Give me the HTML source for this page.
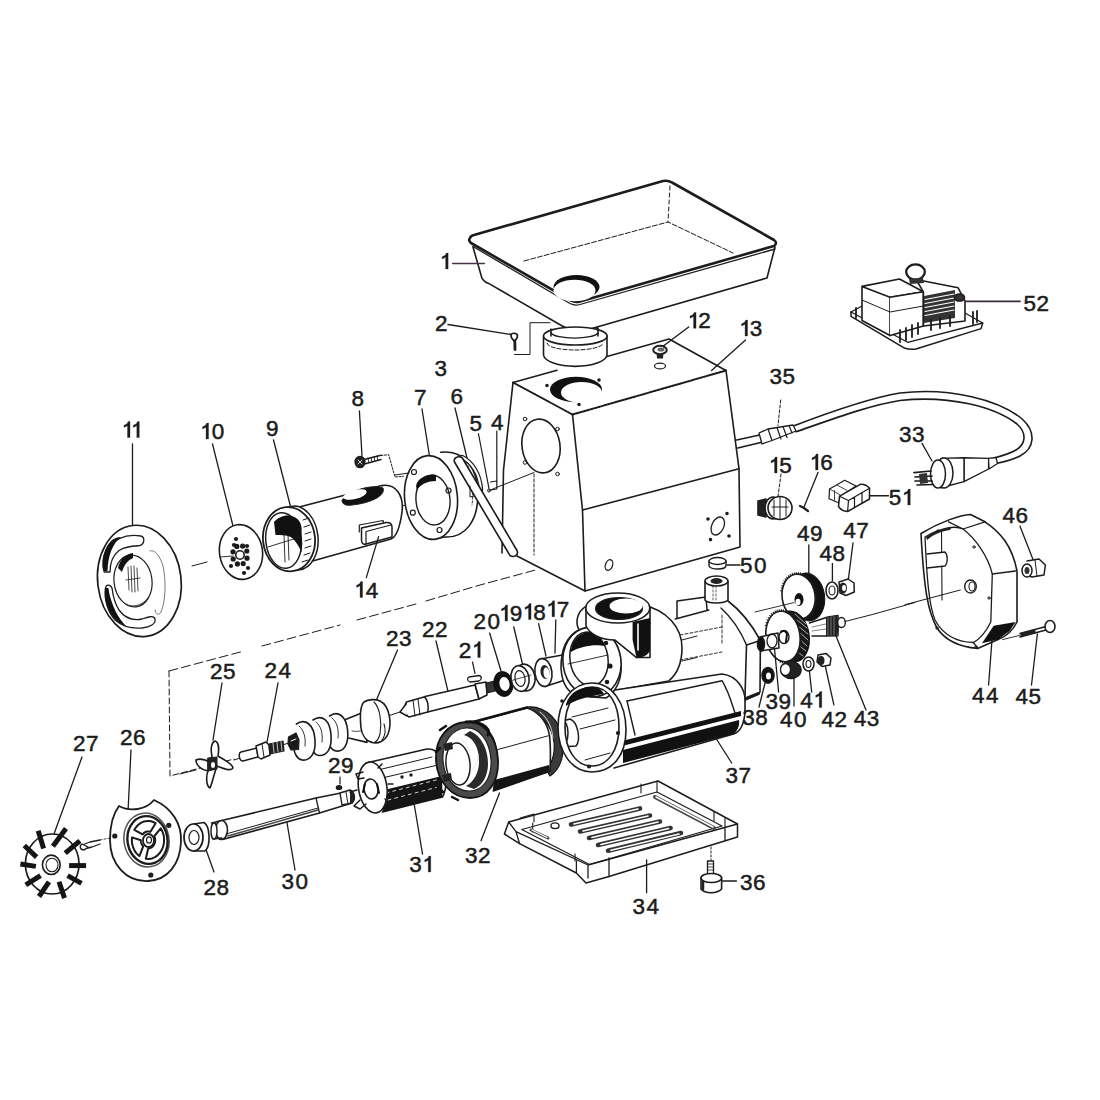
<!DOCTYPE html>
<html><head><meta charset="utf-8"><title>Meat grinder exploded view</title>
<style>
html,body{margin:0;padding:0;background:#fff;width:1100px;height:1100px;overflow:hidden;}
svg{display:block;}
.lb text{font-family:"Liberation Sans",sans-serif;font-size:22.5px;fill:#1c1c1c;stroke:#1c1c1c;stroke-width:0.5px;}
.lb path{fill:#1c1c1c;stroke:#1c1c1c;stroke-width:0.3px;}
</style></head><body>
<svg width="1100" height="1100" viewBox="0 0 1100 1100">
<rect x="0" y="0" width="1100" height="1100" fill="#fff"/>
<g fill="none" stroke="#1c1c1c" stroke-width="1.6" stroke-linejoin="round" stroke-linecap="round">
<!-- 01_tray.svg -->
<g id="tray">
<!-- tray body walls -->
<path d="M473,247 L481.8,277.8 Q484,282 489,283.6 L561.8,325.8 Q567,329 573.5,330 Q582,330.5 591,328.7 L767,278 L775,247" fill="#fff"/>
<!-- rim fill + outline -->
<path d="M470,238 Q471,235.5 474,235 L663,181 Q668,180 672,182.5 L774,240 Q778,243 774,246 L580,301.5 Q575,303 571,300.5 L471,243 Q468,240.5 470,238 Z" fill="#fff" stroke-width="2.6"/>
<path d="M473,246.5 L570,303.5 Q575,306 580,304.5 L775,249" stroke-width="1.3"/>
<!-- inner bottom lines -->
<path d="M524,261 L668,222 L733,253" stroke-width="1" stroke-dasharray="5 2"/>
<path d="M670,186 L668,222" stroke-width="1" stroke-dasharray="4 3"/>
<!-- hole -->
<ellipse cx="576.5" cy="287" rx="23" ry="12" fill="#111" stroke="none"/>
<ellipse cx="574.5" cy="290.5" rx="21" ry="10.8" fill="#fff" stroke="none"/>
</g>
<g id="collar">
<path d="M551,329 L551,343 M597,327 L597,343" stroke-width="1.4"/>
<path d="M543.5,336 L543.5,355 A31.8,12 0 0 0 607,355 L607,336" fill="#fff"/>
<ellipse cx="575.3" cy="336" rx="31.8" ry="9" fill="#fff"/>
<path d="M551,333 A24,6.5 0 0 0 598,333" stroke-width="1.3"/>
<path d="M551,330 L551,336 M598,328 L598,336" />
<path d="M547,343 A28,7 0 0 0 603,343" stroke-width="1" stroke-dasharray="4 2"/>
</g>
<g id="p2">
<path d="M448,324.5 L511,334.5" stroke-width="1.4"/>
<path d="M511,335.5 C511,332.5 517,332.5 517.5,335.5 C517.5,338 515.5,340.5 514.5,341 C513.5,340.5 511,338 511,335.5 Z" fill="#fff" stroke-width="1.7"/>
<path d="M514.8,341 L515,349.5" stroke-width="2.8"/>
<path d="M514.5,354.5 L530,354.5 L530,322.7 L550,322.7" stroke-width="1"/>
</g>
<g id="p12">
<path d="M688.7,327 L662,347" stroke-width="1.4"/>
<path d="M656.5,352 L663.5,352 L663,358.5 L657,358.5 Z" fill="#222" stroke="none"/>
<ellipse cx="660" cy="350" rx="6.8" ry="4.2" fill="#fff" stroke="#222" stroke-width="2"/>
<ellipse cx="661" cy="349.5" rx="3.5" ry="2" fill="#666" stroke="none"/>
<ellipse cx="660" cy="366" rx="5.5" ry="2.9" stroke-width="1.2"/>
</g>
<path d="M452.7,263.6 L484.5,263.6" stroke="#4a3048" stroke-width="1.5"/>

<!-- 02_body.svg -->
<g id="body13">
<path d="M513,382.5 L557,370.3 M607,356.5 L669,339 L726,370.5" />
<path d="M513,382.5 L572.5,414.5" stroke-width="1.9" stroke-dasharray="2.5 1.2"/>
<path d="M572.5,414.5 L726,370.5" stroke-width="2" stroke-dasharray="2.5 1.2"/>
<path d="M513,382.5 L503.5,470 L502,553" />
<path d="M572.5,414.5 L582.5,510 L585,591 L740,547 L739,468.7 L726,370.5" />
<path d="M517,556 L585,591" />
<path d="M582.5,510 L739,468.7" />
<path d="M745.5,340 L711.6,370.5" stroke-width="1.3"/>
<!-- top hole -->
<ellipse cx="576" cy="389.5" rx="26" ry="12.8" fill="#111" stroke="none"/>
<ellipse cx="581.5" cy="392.5" rx="20.5" ry="10.6" fill="#fff" stroke="none"/>
<circle cx="547" cy="385.5" r="1" fill="#222"/><circle cx="599" cy="380" r="1" fill="#222"/><circle cx="579" cy="404.5" r="1" fill="#222"/>
<!-- side opening -->
<ellipse cx="541" cy="446" rx="19" ry="27" transform="rotate(-8 541 446)"/>
<circle cx="525" cy="419" r="1.8" stroke-width="1"/><circle cx="557.5" cy="429" r="1.8" stroke-width="1"/>
<circle cx="525" cy="462.5" r="1.8" stroke-width="1"/><circle cx="557.5" cy="474" r="1.8" stroke-width="1"/>
<path d="M534,474 L534,555" stroke-width="1" stroke-dasharray="3 2"/>
<ellipse cx="609" cy="565" rx="3.5" ry="5.5" transform="rotate(20 609 565)" stroke-width="1.3"/>
<ellipse cx="717.8" cy="526" rx="6" ry="9.5" transform="rotate(25 717.8 526)" stroke-width="1.3"/>
<circle cx="708" cy="519" r="1" fill="#222"/><circle cx="727" cy="513.5" r="1" fill="#222"/>
<circle cx="710.5" cy="539.6" r="1" fill="#222"/><circle cx="729" cy="536" r="1" fill="#222"/>
</g>

<!-- 03_cable.svg -->
<g id="cable">
<path d="M736.7,440 L759.6,435 M737.8,448 L760.7,442.5" />
<!-- connector 35 -->
<path d="M759,433 L768,429 L793,425 L796,431 L772,440.5 L762,444 Z" fill="#fff" stroke-width="1.3"/>
<path d="M768,429 L772,440.5 M777,427.5 L781,439 M783,426.5 L787,437.5 M789,425.5 L792,433" stroke-width="1.2"/>
<path d="M780.7,400 L778,425.5" stroke-width="1" stroke-dasharray="3 2"/>
<!-- long cable -->
<path d="M794.7,425.5 C830,412 870,398 900,393 C950,387 1000,400 1022.7,419.5 C1036,432 1035,448 1020,456 C1012,460 1004,462 996,463.5" stroke-width="1.6"/>
<path d="M796,431.8 C830,420 870,405 900,400.5 C950,395 995,407 1017,424 C1027,433 1026,444 1016,450 C1009,454 1002,456 994,458" stroke-width="1.6"/>
</g>
<g id="p33">
<path d="M922,443.4 L932,461" stroke-width="1.3"/>
<path d="M988,458.4 L996,457.5 L997.5,463.5 L989,469 Z" fill="#fff" stroke-width="1.3"/>
<path d="M964,457.7 L988.6,458.4 L988.6,469 L964,481.6 Z" fill="#fff" stroke-width="1.4"/>
<path d="M941,458.4 L964,457.7 L964,481.6 L941,487.7 Z" fill="#fff" stroke-width="1.4"/>
<ellipse cx="944" cy="473" rx="9" ry="15" fill="#fff" stroke-width="1.5"/>
<ellipse cx="938" cy="474" rx="7.5" ry="14" fill="#fff" stroke-width="1.5"/>
<path d="M914,472.7 L931,471 M915,477 L932,476 M915,481 L932,481 M917,485 L933,484.5" stroke-width="1.7"/><path d="M919,474 L927,473 L928,483 L920,484 Z" fill="#333" stroke="none"/>
</g>
<g id="p52">
<path d="M851,312 L851,316.4 L903.6,347.7 Q910,350 916,349 L981,328.6 L982.7,323" fill="#fff" stroke-width="1.5"/>
<path d="M851,312 L907.7,342.3 L982.7,323 L965,313" stroke-width="1.3"/>
<path d="M851,312 L862,306" stroke-width="1.3"/>
<path d="M862,286.4 L862,320.5 L890,335.5 L890,297.3 Z M862,286.4 L899.5,279 L923.4,291.8 L890,297.3" fill="#fff"/>
<path d="M890,297.3 L923.4,291.8 L923.4,326 L890,335.5" fill="#fff"/>
<path d="M862,300 L890,312 L923.4,306" stroke-width="1"/>
<path d="M903,260 M916,279.5 L958,287.7 L965,301 L965,321 L923.4,326 L923.4,291.8 Z" fill="#fff"/>
<path d="M924,296 L955,290 L955,318 L924,323 Z" fill="#333" stroke="none"/>
<path d="M925,299.5 L954,294 M925,303.5 L954,298 M925,307.5 L954,302 M925,311.5 L954,306 M925,315.5 L954,310" stroke="#fff" stroke-width="1.1"/>
<ellipse cx="915.5" cy="272" rx="9.3" ry="7.6" stroke-width="2.3"/>
<path d="M909,279 L923,278 L924,283 L910,284 Z" fill="#333" stroke="none"/>
<ellipse cx="959.5" cy="297.5" rx="5" ry="3.5" fill="#333"/>
<path d="M900,330 L900,342 M906,328 L906,340 M912,325 L912,337 M918,323 L918,334 M931,320 L931,330 M940,318 L940,328 M950,316 L950,326 M973,312 L973,324 M977,311 L977,322 M856,308 L856,318" stroke-width="1.8"/>
<path d="M965,301.4 L1020,301.4" stroke="#3a2a40" stroke-width="1.6"/>
</g>
<g id="p15">
<path d="M781,474 L778,496.7" stroke-width="1" stroke-dasharray="3 2"/>
<path d="M758,501 L766,499 L766,517 L758,515 Z" fill="#222"/>
<ellipse cx="773" cy="508" rx="8" ry="11" fill="#fff"/>
<ellipse cx="780" cy="508" rx="12" ry="11.5" fill="#fff"/>
<path d="M774,500 L774,516 M780,497 L780,519 M786,500 L786,516 M772,507 L788,507" stroke-width="1"/>
</g>
<g id="p16">
<path d="M818,472.5 L804,507" stroke-width="1.3"/>
<path d="M800,506 L804,508 L808,511" stroke-width="2.2"/>
</g>
<g id="p51">
<path d="M829.5,489 L844.7,480.2 L856,486 L840,497 L839,503 L829,498.7 Z" fill="#fff" stroke-width="1.2"/>
<path d="M829.5,489 L839.6,494.5 M837,485 L847,490.5 M834.5,490.5 L834.5,500.5" stroke-width="1" stroke="#444"/>
<path d="M839.6,496.2 L860.7,484.2 Q866,484 869.5,488.2 L869.5,499 L847.6,511.5 Q841,511 838.5,506.4 Z" fill="#fff" stroke-width="1.5"/>
<path d="M839.6,496.2 L848.5,500.5 L869.5,488.2 M848.5,500.5 L847.6,511.5 M854.5,497 L854.5,507.5 M862,492.5 L862,503" stroke-width="1.2"/>
<path d="M870,495.8 L888.4,495.8" stroke-width="1.4"/>
</g>

<!-- 04_left.svg -->
<g id="axis-lines" stroke-width="1">
<path d="M169,671 L244,651 M262,646 L340,625 M357,620 L416,604 M426,601 L480,585 L535.6,570" stroke-dasharray="9 4"/>
<path d="M169,671 L170,776 L234,759" stroke-dasharray="6 3"/>
<path d="M192,566 L207,562 M222,558 L236,555" />
<path d="M395,507.6 L448.5,495" />
<path d="M489,490.5 L534,472.5" />
</g>
<g id="p11">
<path d="M132.5,444 L132.5,526" stroke-width="1.3"/>
<ellipse cx="139.4" cy="580.9" rx="41.7" ry="55.8" transform="rotate(-7 139.4 580.9)" fill="#fff" stroke-width="1.7"/>
<path d="M140.8,536 C128,534 116,538 108,548 C102,556 102,566 104.2,572 L110,572 C110,564 112,556 119,550.5 C126,546 134,546 139.6,545.7 C145,544 145,537 140.8,536 Z" fill="#fff" stroke-width="1.3"/>
<path d="M104,571 C101,560 104,547 112,540 C115,538 118,537 121,537 C113,543 108,555 107.5,571 Z" fill="#111" stroke="none"/>
<path d="M105.4,588.3 C104,600 108,612 115,620 C122,626 132,629 142,628 C150,627 156,624 155,619 C154,615 148,617 142,619 C132,621 124,617 119,610 C115,604 113,596 112,588 C110,584 106,584 105.4,588.3 Z" fill="#fff" stroke-width="1.3"/>
<path d="M105,588 C104,602 109,615 118,622 C121,624 124,625 126,626 C118,618 112,606 109,592 L108.5,588 Z" fill="#111" stroke="none"/>
<path d="M150,551 C155,549 160,556 163,566 C166,580 166,600 161,612 C159,616 155,614 155,610" stroke-width="1" stroke="#777"/>
<ellipse cx="133" cy="581" rx="19" ry="26" transform="rotate(-7 133 581)" stroke-width="1.2"/>
<path d="M118,568 C120,559 126,554 133,553 L133,558 C128,560 124,565 122,572 Z" fill="#111" stroke="none"/>
<path d="M128,567 L129,590 M131,566 L132,592 M134,566 L135,592 M137,568 L138,591 M126,580 L140,578" stroke-width="0.8"/>
<path d="M126,604 C132,608 142,606 148,598" stroke-width="0.8"/>
</g>
<g id="p10">
<path d="M212.5,444 L234,530" stroke-width="1.3"/>
<ellipse cx="241" cy="552" rx="21.5" ry="27.5" transform="rotate(-8 241 552)" fill="#fff"/>
<g fill="#1a1a1a" stroke="none"><circle cx="247.0" cy="558.2" r="2.6"/><circle cx="243.2" cy="563.6" r="2.6"/><circle cx="237.4" cy="563.9" r="2.6"/><circle cx="233.2" cy="559.0" r="2.6"/><circle cx="233.0" cy="551.8" r="2.6"/><circle cx="236.8" cy="546.4" r="2.6"/><circle cx="242.6" cy="546.1" r="2.6"/><circle cx="246.8" cy="551.0" r="2.6"/><circle cx="236" cy="539" r="2.1"/><circle cx="247" cy="546" r="2.1"/><circle cx="231" cy="566" r="2.1"/><circle cx="248" cy="568" r="2.1"/><circle cx="244" cy="573" r="2.1"/><circle cx="234" cy="545" r="2.1"/></g>
<circle cx="240" cy="555" r="4.2" fill="#fff" stroke-width="1.6"/>
<path d="M220,557 L233,556" stroke-width="0.9"/>
</g>
<g id="p9">
<path d="M273.5,440 L290.5,506.5" stroke-width="1.3"/>
<path d="M298.3,507.2 L381.7,485.6 C396,483 404,496 402,512 C400,527 396,537 391,539 L309,562" fill="#fff"/>
<ellipse cx="296" cy="538" rx="22" ry="32" transform="rotate(-6 296 538)" fill="#fff" stroke-width="1.5"/>
<ellipse cx="289" cy="539.2" rx="26" ry="32.2" transform="rotate(-6 289 539.2)" fill="#fff" stroke-width="1.8"/>
<ellipse cx="283.6" cy="540.5" rx="17.8" ry="27.8" transform="rotate(-6 283.6 540.5)" stroke-width="1.5"/>
<path d="M274,521.8 C279,516 287,514 293,516.4 C298,518 301,522 301.6,528 L301.6,552.4 C299,546 295,540 290.7,537 C286,535 280,535 275.5,535 Z" fill="#111" stroke="none"/>
<path d="M303,520 L309,518 M304,527 L310,525 M305,534 L311,532 M305,541 L311,539 M305,548 L311,546 M304,555 L310,553 M302,562 L308,560" stroke-width="1"/>
<path d="M268,547 L300,537 M284,534 L285,562 M288,534 L289,560" stroke-width="0.9"/>
<!-- slot -->
<path d="M342.3,500 C350,490 372,484 383,488 C386,495 372,503 352,505 C346,506 341,504 342.3,500 Z" fill="#111" stroke-width="1"/>
<ellipse cx="355" cy="494.5" rx="12" ry="4.5" transform="rotate(-15 355 494.5)" fill="#fff" stroke="none"/>
</g>
<g id="p14">
<path d="M359.3,532 L359.3,525 L383,520.5 L384,524" stroke-width="1.2"/>
<path d="M361.5,528 L386,522.5 Q392,522 392,527 L392,537 L366,544 Q361.5,545 361.5,540 Z" fill="#fff" stroke-width="1.5"/>
<path d="M366,531.5 L366,544 M366,531.5 L391,525" stroke-width="1.2"/>
<path d="M378.6,536.6 L366.3,577.6" stroke-width="1.3"/>
</g>
<g id="p8">
<path d="M359.4,411 L362,456" stroke-width="1.3"/>
<ellipse cx="360" cy="462" rx="4.8" ry="5.5" fill="#222"/>
<path d="M358,460 L362,464 M362,460 L358,464" stroke="#fff" stroke-width="0.8"/>
<path d="M364,459.5 L381,455.2 M364.5,464 L381,459.5" stroke-width="1.4"/>
<path d="M368,458 L368.8,462.5 M371,457.3 L371.8,461.8 M374,456.5 L374.8,461 M377,455.8 L377.8,460.3" stroke-width="0.9"/>
<path d="M381,455.5 L388.7,454.7 L394.9,477 L403.4,476.3" stroke-width="1" stroke-dasharray="2 1.5"/>
</g>
<g id="p7">
<path d="M422,409 L429.4,455.5" stroke-width="1.3"/>
<path d="M440.8,452.3 C465,449 478,470 478,494 C478,520 466,538 445,537 L431,539.5" fill="#fff"/>
<path d="M466,462 C472,472 474,490 472,505" stroke-width="0.9" stroke-dasharray="2 2"/>
<ellipse cx="431" cy="497.5" rx="26.4" ry="42" transform="rotate(-5 431 497.5)" fill="#fff"/>
<ellipse cx="433" cy="500" rx="17" ry="25" transform="rotate(-5 433 500)" fill="#fff" stroke-width="1.4"/>
<path d="M416,486 C418,478 426,474 436,475 L436,481 C428,481 421,484 417,490 Z" fill="#111" stroke="none"/>
<circle cx="414" cy="472" r="2.5" stroke-width="1.2"/><circle cx="448.5" cy="490.5" r="2.5" stroke-width="1.2"/>
<circle cx="412.8" cy="512.7" r="2.5" stroke-width="1.2"/><circle cx="439.5" cy="530" r="2.5" stroke-width="1.2"/>
<path d="M395,475 L409,473" stroke-width="1"/>
</g>
<g id="p6">
<path d="M455,408 L467,458" stroke-width="1.3"/>
<path d="M462,457 C472,462 480,474 481,490" stroke-width="4.5" stroke="#1c1c1c"/>
<path d="M462,457 C472,462 480,474 481,490" stroke-width="2" stroke="#fff"/>
<path d="M454.5,462 C453,458 458,455.5 462,457.5 L517,550.5 C519,555 514,558 510,555.6 Z" fill="#fff" stroke-width="1.6"/>
<path d="M470,486 L470,497 L474,496" stroke-width="1"/>
</g>
<g id="p45">
<path d="M478.4,433.5 L489,488.5" stroke-width="1.2"/>
<path d="M496.8,431 L496.8,481" stroke-width="1.2"/>
<path d="M490.5,482 L496.8,481 L496.8,489 L491,490" stroke-width="1.2"/>
<circle cx="489" cy="490.5" r="1.5" stroke-width="1"/>
</g>

<!-- 05_bottomleft.svg -->
<g id="p25">
<path d="M222,683 L213,740" stroke-width="1.3"/>
<path d="M180,774 L196,770 M234,760 L292,742" stroke-width="1"/>
<path d="M212,756 C210,748 212,742 215,741 C219,742 219,750 218,756 C224,760 232,763 233,768 C231,772 222,768 217,766 C214,774 212,784 210,788 C206,786 206,776 208,771 C202,770 196,766 196,760 C200,758 206,760 210,762 Z" fill="#fff" stroke-width="1.6"/>
<path d="M208,758 L217,757 L217,769 L208,771 Z" fill="#222" stroke-width="1"/>
<ellipse cx="213" cy="765" rx="2" ry="3" fill="#fff" stroke="none"/>
</g>
<g id="p24">
<path d="M278,683 L267,742" stroke-width="1.3"/>
<path d="M241,752 L257,748 L258,757 L243,761 C239,761 238,753 241,752 Z" fill="#fff" stroke-width="1.5"/>
<path d="M256,746 L266,742 L269,745 L270,755 L261,759 L258,757 Z" fill="#fff" stroke-width="1.5"/>
<path d="M262,744 L264,757" stroke-width="1"/>
<path d="M269,744 L283,741 L284,751 L270,754 Z" fill="#222" stroke-width="1.2"/>
<path d="M273,743 L274,753 M277,742 L278,752 M281,741.5 L282,751" stroke="#fff" stroke-width="0.7"/>
</g>
<g id="p23">
<path d="M397.5,650 L376,701" stroke-width="1.3"/>
<path d="M388,716 L400,712" stroke-width="1"/>
<path d="M345.5,719.5 L364,712 L367,742.4 L348.7,738" fill="#fff" stroke-width="1.6"/>
<path d="M352,731 C356,732 362,731 365,730" stroke-width="0.8"/>
<path d="M329.6,716 C338,710 346,716 347.6,730 C349,744 344,752 336,751 C331,750 328,744 328,740" fill="#fff" stroke-width="1.6"/>
<path d="M313,720 C322,714 330,720 331,735 C332,749 327,756 319,755.5 C314,755 311,749 311,744" fill="#fff" stroke-width="1.6"/>
<path d="M296.4,724 C305,718 314,724 315,740 C316,754 310,761 302,760 C297,759 294,753 294,748" fill="#fff" stroke-width="1.6"/>
<path d="M299,726 C304,730 306,738 305,746 M316,722 C321,726 323,733 322,742 M332,718 C337,722 339,729 338,738" stroke-width="0.9"/>
<path d="M288.5,737 L296,733 L299,740 L298.5,749.5 L291,750 L288,744 Z" fill="#1a1a1a" stroke-width="1.2"/>
<path d="M291,741 L296,739" stroke="#fff" stroke-width="1"/>
<path d="M364,702 C368,699 376,699 380,701 C390,706 392,724 388,734 C385,741 378,744 372,742.4 C366,741 362,735 361,728 C360,718 360,706 364,702 Z" fill="#fff" stroke-width="1.6"/>
<path d="M374,702 C380,708 382,722 380,734 C379,738 377,741 375,742" stroke-width="1.1"/>
<path d="M384,724 C386,730 385,736 382,740" stroke-width="1.1"/>
</g>
<g id="p22">
<path d="M436,641 L449,695.6" stroke-width="1.3"/>
<path d="M425,696.5 L475,685 L479,699 L427.7,712" fill="#fff" stroke-width="1.6"/>
<path d="M475,684 L486,682 L487,695 L479,699 Z" fill="#fff" stroke-width="1.5"/>
<path d="M486,683 L495,681 L495,691 L487,693 Z" fill="#333" stroke-width="1.2"/>
<path d="M406.5,702 L424,697 C428,699 429,708 427.7,712 L409,717 C405,715 404,706 406.5,702 Z" fill="#fff" stroke-width="1.5"/>
<path d="M413,700 L415,716 M418,699 L420,715" stroke-width="1"/>
<path d="M406,704 L400,712 L407,716" fill="#fff" stroke-width="1.5"/>
</g>
<g id="p21">
<path d="M472.5,662 L475,673.5" stroke-width="1.2"/>
<path d="M469,677 L479,675.5 C482,676 482,680 479,681 L470,682 C467,681 467,678 469,677 Z" fill="#fff" stroke-width="1.3"/>
</g>
<g id="p20">
<path d="M489.6,633 L501,671" stroke-width="1.3"/>
<ellipse cx="503.3" cy="684" rx="10" ry="13" transform="rotate(-10 503.3 684)" fill="#111" stroke="none"/>
<ellipse cx="504.5" cy="684" rx="5" ry="7" transform="rotate(-10 504.5 684)" fill="#fff" stroke="none"/>
</g>
<g id="p19">
<path d="M513.8,627 L522.6,664.5" stroke-width="1.3"/>
<ellipse cx="525" cy="677.5" rx="10" ry="13.5" transform="rotate(-10 525 677.5)" fill="#fff" stroke-width="1.6"/>
<ellipse cx="520" cy="678.5" rx="9" ry="13" transform="rotate(-10 520 678.5)" fill="#fff" stroke-width="1.6"/>
<ellipse cx="520" cy="678.5" rx="5" ry="8" transform="rotate(-10 520 678.5)" stroke-width="1.2"/>
<path d="M510,681 L531,675" stroke-width="0.8"/>
</g>
<g id="p18">
<path d="M538.6,623.7 L546,656" stroke-width="1.3"/>
<path d="M543,658.5 L564,654.7 C570,655 572,662 571,670 C570,678 567,681 562,681 L545,686.5" fill="#fff" stroke-width="1.6"/>
<ellipse cx="543.4" cy="672.5" rx="8.5" ry="14" transform="rotate(-8 543.4 672.5)" fill="#fff" stroke-width="1.6"/>
<ellipse cx="545" cy="672" rx="4.5" ry="7" transform="rotate(-8 545 672)" fill="#222" stroke="none"/>
<ellipse cx="546.5" cy="673" rx="3" ry="5.5" transform="rotate(-8 546.5 673)" fill="#fff" stroke="none"/>
</g>
<g id="p17lead"><path d="M555.8,620 L555,653" stroke-width="1.3"/></g>
<g id="p27">
<path d="M82,757 L54,834" stroke-width="1.3"/>
<ellipse cx="52.2" cy="864" rx="26.8" ry="30" fill="#fff" stroke-width="1.7"/>
<g stroke="#151515" stroke-width="5" stroke-linecap="butt"><path d="M52.9,846.3 L66.0,828.5"/><path d="M43.6,848.6 L38.2,830.8"/><path d="M36.6,857.1 L24.3,845.5"/><path d="M35.9,866.4 L20.4,864.0"/><path d="M40.5,875.6 L25.8,884.9"/><path d="M49.0,881.8 L39.0,896.5"/><path d="M59.0,881.8 L64.5,898.1"/><path d="M67.6,875.6 L81.5,883.4"/><path d="M69.1,865.6 L86.1,865.6"/><path d="M65.2,853.2 L79.9,840.9"/></g>
<ellipse cx="51.3" cy="864.8" rx="8.9" ry="9.7" fill="#fff" stroke-width="1.6"/>
<ellipse cx="52" cy="865" rx="6" ry="6.8" stroke-width="1.1"/>
<path d="M82,845 L90,842 L100,840 M84,849 L92,847 L100,844" stroke-width="1.3"/>
<path d="M82,844 C79,846 80,850 84,850 L88,847 Z" fill="#fff" stroke-width="1.3"/>
<path d="M100,840 L110,838" stroke-width="0.8" stroke-dasharray="2 2"/>
</g>
<g id="p26">
<path d="M131,750 L128,812" stroke-width="1.3"/>
<path d="M119,806 C130,812 146,810 154,800 C172,808 182,824 181,842 C180,864 168,880 148,881 C126,882 110,864 110,840 C110,826 113,814 119,806 Z" fill="#fff" stroke-width="1.8"/>
<ellipse cx="146.5" cy="840" rx="22.5" ry="27" transform="rotate(-10 146.5 840)" stroke-width="1.5" stroke="#555"/>
<ellipse cx="147.5" cy="840" rx="20" ry="24" transform="rotate(-10 147.5 840)" stroke-width="2.4"/>
<path d="M160.7,828.3 L162.4,831.5 L163.6,835.0 L164.1,838.7 L164.0,842.4 L163.3,846.1 L162.0,849.5 L160.1,852.5 L157.8,855.1 L155.1,857.1 L152.1,858.4 L148.9,859.0 L145.8,858.8 L148.2,848.5 L149.4,848.3 L150.6,847.9 L151.7,847.3 L152.7,846.5 L153.6,845.4 L154.3,844.2 L154.8,842.9 L155.1,841.6 L155.2,840.1 L155.1,838.7 L154.8,837.3 L154.4,836.0 Z" fill="#fff" stroke="#1a1a1a" stroke-width="2"/><path d="M139.4,856.1 L138.2,855.1 L137.0,853.9 L135.9,852.6 L134.9,851.2 L134.1,849.6 L133.4,848.0 L132.8,846.3 L132.3,844.6 L132.0,842.8 L131.9,841.0 L131.9,839.2 L132.0,837.4 L140.8,840.2 L140.8,840.8 L140.9,841.4 L141.0,842.0 L141.1,842.5 L141.3,843.1 L141.5,843.6 L141.7,844.1 L141.9,844.6 L142.2,845.1 L142.5,845.5 L142.8,846.0 L143.2,846.4 Z" fill="#fff" stroke="#1a1a1a" stroke-width="2"/><path d="M134.3,829.9 L135.5,828.0 L136.8,826.3 L138.4,824.7 L140.1,823.4 L141.9,822.4 L143.8,821.6 L145.8,821.2 L147.8,821.0 L149.8,821.1 L151.8,821.5 L153.7,822.2 L155.6,823.2 L150.3,831.9 L149.6,831.7 L148.9,831.6 L148.2,831.5 L147.5,831.5 L146.8,831.6 L146.1,831.8 L145.5,832.0 L144.8,832.4 L144.2,832.8 L143.6,833.2 L143.1,833.8 L142.6,834.4 Z" fill="#fff" stroke="#1a1a1a" stroke-width="2"/>
<ellipse cx="148.5" cy="840.5" rx="5.5" ry="6.5" fill="#fff" stroke-width="1.8"/>
<ellipse cx="149" cy="840" rx="2.5" ry="3.2" stroke-width="1.2"/>
<circle cx="114.8" cy="836" r="1.8" fill="#222"/><circle cx="168.8" cy="825.3" r="1.8" fill="#222"/><circle cx="150.8" cy="875" r="1.8" fill="#222"/>
</g>
<g id="p28">
<path d="M204,844 L214,872" stroke-width="1.3"/>
<path d="M193.5,824 L204,822.5 C210,826 211,846 205,851 L193.5,851" fill="#fff" stroke-width="1.6"/>
<ellipse cx="193.5" cy="837.5" rx="9.5" ry="13.5" fill="#fff" stroke-width="1.7"/>
<ellipse cx="194" cy="837.5" rx="5" ry="7" stroke-width="1.2"/>
</g>
<g id="p30">
<path d="M295,870 L286.7,821" stroke-width="1.3"/>
<path d="M219.6,821 L316,798 L351,791 L352,803 L319.5,813 L224.5,839" fill="#fff" stroke-width="1.6"/>
<ellipse cx="221.5" cy="830" rx="6" ry="9.5" fill="#fff" stroke-width="1.6"/>
<path d="M211.5,823 L220,821 M213,839 L222,838" stroke-width="1.4"/>
<ellipse cx="214" cy="831" rx="3" ry="8" fill="#fff" stroke-width="1.4"/>
<path d="M316,798 L319.5,813" stroke-width="1.3"/>
<path d="M226,834 L318,808" stroke-width="1" />
<path d="M228,836 L318,810" stroke="#444" stroke-width="1.5"/>
<path d="M340,793 L350,790 C355,792 356,800 352,803 L342,805 Z" fill="#fff" stroke-width="1.4"/><path d="M346,792 L348,804" stroke-width="1"/><path d="M350,790.5 C355,792 356,800 352,803 L350,803 Z" fill="#222" stroke="none"/>
</g>
<g id="p29">
<path d="M340,777 L340,784" stroke-width="1.2"/>
<ellipse cx="339" cy="787.5" rx="2.5" ry="1.8" fill="#222"/>
</g>

<!-- 06_motor.svg -->
<g id="p31">
<path d="M422.5,854 L414,803" stroke-width="1.3"/>
<path d="M366,763 L427,749 C440,748 448,765 447,776 C446,788 444,795 442.5,797 L382.5,812" fill="#fff" stroke-width="1.6"/>
<path d="M384,790 L442,776 L442.5,797 L382.5,812 Z" fill="#151515" stroke="none"/>
<path d="M386,793 L440,779 M388,800 L438,787" stroke="#fff" stroke-width="0.8" stroke-dasharray="3 4"/>
<path d="M378,770 L432,757 M382,778 L438,765" stroke-width="1"/>
<circle cx="402" cy="777" r="0.9" fill="#222"/><circle cx="411" cy="775" r="0.9" fill="#222"/>
<ellipse cx="372.7" cy="787.5" rx="14.2" ry="25.6" transform="rotate(-8 372.7 787.5)" fill="#fff" stroke-width="1.6"/>
<ellipse cx="371" cy="789" rx="7" ry="10" transform="rotate(-8 371 789)" fill="#fff" stroke-width="1.6"/>
<path d="M363,772 L356,774 L358,779 L364,778 M360,800 L354,806 L360,809 L366,804 M378,768 L382,764 M385,799 L390,803 M388,784 L393,784" stroke-width="1.5"/>
<path d="M365,784 L363,792 M377,784 L379,793" stroke="#111" stroke-width="2"/>
<path d="M350,792 L357,790" stroke-width="1.4"/>
</g>
<g id="p32">
<path d="M481,840.7 L499.5,793" stroke-width="1.3"/>
<!-- rear bearing -->
<path d="M559,722 L570,719 C578,722 581,740 576,746 L562,747" fill="#fff" stroke-width="1.5"/>
<ellipse cx="563" cy="733" rx="5" ry="12" fill="#fff" stroke-width="1.5"/>
<ellipse cx="563" cy="733" rx="2.5" ry="5" fill="#333" stroke="none"/>
<!-- rear windings -->
<path d="M527,707 C546,705 562,722 563,742 C564,758 559,770 550,776 L546,770 C553,762 555,752 554,742 C552,726 542,714 527,712 Z" fill="#3a3a3a" stroke="#151515" stroke-width="1.2"/>
<path d="M540,712 C548,718 552,728 553,738 M548,760 C546,766 544,770 541,773" stroke="#ddd" stroke-width="1"/>
<!-- body -->
<path d="M473,722.6 L527,708 C540,712 550,725 550,742 C551,755 550,765 550,771 L493.4,791 C496,775 497,758 496,748 C494,735 486,726 473,722.6 Z" fill="#fff" stroke-width="1.6"/>
<path d="M473,722 L527,707.5" stroke="#111" stroke-width="2.4"/>
<path d="M496,750 L548.6,735.7" stroke-width="1"/>
<path d="M494,780 L549,765 L550,772 L493.4,791 Z" fill="#151515" stroke="none"/>
<!-- front windings -->
<path d="M466,722 C484,720 497,738 498,760 C499,782 488,798 470,798 C452,798 437,782 436,760 C435,738 448,723 466,722 Z" fill="#4a4a4a" stroke="#151515" stroke-width="1.8"/>
<path d="M466,728 C480,727 490,742 491,760 C492,778 483,791 469,791 C455,791 444,778 443,760 C442,742 452,729 466,728 Z" fill="#fff" stroke="#222" stroke-width="1.2"/>
<path d="M470,731 C482,736 488,750 488,764 C488,776 482,786 474,789 L466,786 C474,782 479,772 479,762 C479,748 474,738 464,735 Z" fill="#2a2a2a" stroke="none"/>
<path d="M462,740 C468,744 471,752 470,760 M472,770 C476,766 478,760 478,754" stroke="#eee" stroke-width="1.2"/>
<ellipse cx="458" cy="764" rx="12" ry="21" transform="rotate(-6 458 764)" fill="#fff" stroke-width="1.5"/>
<path d="M443,744 L452,742 L453,749 L445,751 Z M442,775 L451,773 L452,780 L444,782 Z" fill="#222" stroke="none"/>
<path d="M440,730 L446,726 M436,752 L440,748 M437,786 L443,792 M452,797 L458,800" stroke="#111" stroke-width="2.5"/>
<path d="M488,735 C492,728 478,720 466,722" stroke="#111" stroke-width="3"/>
</g>
<g id="p17">
<!-- barrel dome -->
<path d="M640,604 C668,610 682,628 682,648 C682,662 677,674 668.7,681 L615,690.6" fill="#fff" stroke-width="1.6"/>
<path d="M682,640 L697,636 M682,661 L697,657.5" stroke-width="1"/>
<!-- front flange -->
<path d="M585.5,606.6 C577,612 575,622 579,630 C567,636 561,650 561,668 C562,684 568,694 580,696 L606,698 C616,692 622,680 621,664 C620,650 615,640 609,634 L615,640 L636.5,657.5 L650,623 Z" fill="#fff" stroke-width="1.6"/>
<ellipse cx="592" cy="662" rx="29" ry="35" transform="rotate(-8 592 662)" fill="#fff" stroke-width="1.6"/>
<ellipse cx="589" cy="659" rx="19" ry="27" transform="rotate(-8 589 659)" fill="#fff" stroke-width="1.5"/>
<path d="M571,650 C572,640 580,632 590,632 C598,632 603,638 604,646 C596,644 580,646 571,652 Z" fill="#111" stroke="none"/>
<path d="M568,664 L608,655" stroke-width="0.9"/>
<circle cx="606" cy="643" r="1.5" fill="#111"/><circle cx="610" cy="666" r="1.8" fill="#111"/><circle cx="607" cy="682" r="1.5" fill="#111"/>
<!-- neck -->
<path d="M586,608 L586,626 C590,634 600,640 615,640 L636.5,657.5 L650,657.5 L650,608" fill="#fff" stroke-width="1.6"/>
<path d="M632.6,622 L650,618 L650,650 C648,656 642,658 636.5,657.5 L632.6,640 Z" fill="#111" stroke="none"/>
<path d="M638,624 L638,650" stroke="#fff" stroke-width="1.6"/>
<ellipse cx="617.8" cy="608" rx="32" ry="15" fill="#fff" stroke-width="1.6"/>
<ellipse cx="619" cy="608.5" rx="23.5" ry="11" fill="#111" stroke-width="1.2"/>
<ellipse cx="626" cy="606" rx="16.5" ry="7.5" fill="#fff" stroke="none"/>
</g>
<g id="p37">
<!-- upper rear part -->
<path d="M677,617.7 L677,601 L706,597 L707,610" fill="#fff" stroke-width="1.5"/>
<path d="M675.4,619 L708.8,610" stroke-width="1.6"/>
<path d="M728,601 C740,610 752,625 760.4,640.5 L760,692 L758.4,694 L745,700 L745,696 L746.5,645" fill="#fff" stroke-width="1.6"/>
<path d="M721,608 C732,618 741,632 746.5,645 L760.4,640.5" stroke-width="1.4"/><path d="M745,699 L758.5,693.5" stroke-width="3"/>
<path d="M680,635 L722,627 M680,660 L722,652 M722,615 L722,645" stroke-width="0.9" stroke-dasharray="3 2"/>
<!-- lower motor cylinder -->
<path d="M615,690 L722,674 C738,676 745,690 745,700 L745,712 C744,725 740,732 733.6,734 L614,768" fill="#fff" stroke-width="1.6"/>
<path d="M627,701 L722,680.7 C730,694 733,708 736,716" stroke-width="1.4"/>
<path d="M627,701 L635,735" stroke-width="1.4"/>
<path d="M622,741 L741,711 L741,716 L622,746 Z" fill="#111" stroke="none"/>
<path d="M623,750 L739,720 C740,726 737,731 733.6,734 L623,763 Z" fill="#111" stroke="none"/>
<path d="M714.5,736 L731.7,763" stroke-width="1.3"/>
<!-- rear flange ring -->
<path d="M592,683 C612,683 626,703 626,730 C626,756 612,772 592,772 C572,772 558,752 558,727 C558,702 572,683 592,683 Z M592,687 C575,687 565,705 565,727 C565,750 576,766 592,766 C608,766 619,750 619,727 C619,704 609,687 592,687 Z" fill="#fff" fill-rule="evenodd" stroke-width="1.6"/>
<path d="M566,704 C570,692 580,687 592,687 C598,687 602,690 604,694 C590,696 574,700 566,706 Z" fill="#111" stroke="none"/>
<path d="M572,717 L608,708 M580,729 L615,720 M585,760 L610,753" stroke-width="1"/>
<circle cx="618" cy="733" r="1.3" fill="#111"/><circle cx="589" cy="766.5" r="1.3" fill="#111"/><circle cx="562" cy="701" r="1" fill="#111"/>
<!-- post 50 -->
<path d="M705,582 L705,600 C708,604 724,604 728,600 L728,582" fill="#fff" stroke-width="1.6"/>
<ellipse cx="716.5" cy="581" rx="11.5" ry="5" fill="#fff" stroke-width="1.6"/>
<ellipse cx="716.5" cy="581" rx="6" ry="3" fill="#222" stroke="none"/>
<path d="M713,586 L713,600 M716,586 L716,600" stroke-width="0.7" stroke-dasharray="2 2"/>
</g>
<g id="p50">
<path d="M709,561 L709,566 C711,570 725,570 726,566 L726,561" fill="#fff" stroke-width="1.4"/>
<ellipse cx="717.5" cy="561" rx="8.5" ry="3.5" fill="#fff" stroke-width="1.4"/>
<path d="M727,565 L740,565" stroke-width="1.4"/>
</g>

<!-- 07_right.svg -->
<g id="p49">
<path d="M808.8,545 L808.8,573" stroke-width="1.3"/>
<ellipse cx="807.6" cy="597" rx="17" ry="24" transform="rotate(-8 807.6 597)" fill="#111" stroke="#111" stroke-width="1"/>
<ellipse cx="798.6" cy="596.5" rx="16.5" ry="22.5" transform="rotate(-8 798.6 596.5)" fill="#fff" stroke-width="1.6"/>
<path d="M782.2,591.0 L780.6,590.7 M782.6,588.6 L781.1,588.0 M783.2,586.2 L781.8,585.5 M784.1,583.9 L782.7,583.1 M785.1,581.9 L783.9,580.9 M786.3,580.0 L785.2,578.9 M787.7,578.4 L786.7,577.1 M789.3,577.0 L788.4,575.6 M790.9,575.8 L790.2,574.4 M792.7,575.0 L792.2,573.4 M794.5,574.4 L794.2,572.8 M796.4,574.1 L796.3,572.5 M798.4,574.2 L798.4,572.6 M800.3,574.5 L800.5,572.9 M802.2,575.1 L802.6,573.6 M804.1,576.1 L804.7,574.6 M805.8,577.3 L806.6,575.9 M807.5,578.7 L808.5,577.4 M809.1,580.4 L810.2,579.2 M810.5,582.3 L811.7,581.3 M811.8,584.4 L813.1,583.5 M812.9,586.7 L814.3,586.0 M813.8,589.1 L815.3,588.5 M814.5,591.6 L816.0,591.2 M814.9,594.2 L816.5,594.0 M815.2,596.8 L816.8,596.8 M815.2,599.4 L816.8,599.6 M815.0,602.0 L816.6,602.3 M814.6,604.4 L816.1,605.0 M814.0,606.8 L815.4,607.5 M813.1,609.1 L814.5,609.9 M812.1,611.1 L813.3,612.1 M810.9,613.0 L812.0,614.1 M809.5,614.6 L810.5,615.9 M807.9,616.0 L808.8,617.4 M806.3,617.2 L807.0,618.6 M804.5,618.0 L805.0,619.6 M802.7,618.6 L803.0,620.2 M800.8,618.9 L800.9,620.5 M798.8,618.8 L798.8,620.4 " stroke="#1c1c1c" stroke-width="1.1"/>
<ellipse cx="799" cy="599.5" rx="4.5" ry="6.5" fill="#111" stroke="none"/>
<ellipse cx="798" cy="602" rx="2.5" ry="3.2" fill="#fff" stroke="none"/>
<path d="M755,612 L794,602.6" stroke-width="0.9"/>
</g>
<g id="p43">
<path d="M809.4,623 L828,617 L838,615.6 L838,635.7 L826,636 L812,636" fill="#fff" stroke-width="1.5"/><path d="M812,627 L826,624 M812,631 L826,629" stroke-width="0.8" stroke="#666"/>
<path d="M826,617.5 L836,615.6 C840,618 840,633 836,635.7 L826,636 Z" fill="#222" stroke="none"/><path d="M828,618 L828,635 M831,617 L831,635 M834,616.5 L834,635" stroke="#999" stroke-width="0.7"/>
<ellipse cx="841.5" cy="622.5" rx="3.8" ry="5" fill="#fff" stroke-width="1.4"/>
<path d="M845,621.5 L875,613.8 L915,602.5" stroke-width="1"/>
<path d="M835.4,634.5 L866,710" stroke-width="1.3"/>
</g>
<g id="p40">
<ellipse cx="792" cy="636.5" rx="17" ry="25.4" transform="rotate(-8 792 636.5)" fill="#1a1a1a" stroke="#111"/>
<path d="M795,614 L806,624 M797,620 L807,628 M798,626 L808,634 M799,632 L808,640 M798,638 L807,646 M797,644 L806,651 M795,650 L803,656" stroke="#bbb" stroke-width="0.9"/>
<ellipse cx="783" cy="636.4" rx="17" ry="25.4" transform="rotate(-8 783 636.4)" fill="#fff" stroke-width="1.6"/>
<path d="M766.7,625.9 L765.2,625.3 M767.4,623.3 L766.0,622.5 M768.3,620.9 L767.0,619.9 M769.5,618.7 L768.3,617.6 M770.8,616.7 L769.7,615.5 M772.3,615.0 L771.4,613.7 M773.9,613.6 L773.2,612.2 M775.7,612.5 L775.1,611.0 M777.5,611.7 L777.1,610.1 M779.5,611.2 L779.2,609.7 M781.4,611.1 L781.4,609.5 M783.4,611.4 L783.6,609.8 M785.4,612.0 L785.8,610.4 M787.4,612.9 L787.9,611.3 M789.3,614.1 L790.0,612.6 M791.1,615.6 L792.0,614.3 M792.8,617.4 L793.8,616.2 M794.4,619.5 L795.5,618.4 M795.8,621.8 L797.1,620.8 M797.1,624.3 L798.4,623.4 M798.1,626.9 L799.6,626.3 M799.0,629.7 L800.5,629.2 M799.6,632.6 L801.2,632.3 M800.0,635.5 L801.6,635.4 M800.2,638.4 L801.8,638.5 M800.1,641.3 L801.7,641.6 M799.9,644.2 L801.4,644.6 M799.3,646.9 L800.8,647.5 M798.6,649.5 L800.0,650.3 M797.7,651.9 L799.0,652.9 M796.5,654.1 L797.7,655.2 M795.2,656.1 L796.3,657.3 M793.7,657.8 L794.6,659.1 M792.1,659.2 L792.8,660.6 M790.3,660.3 L790.9,661.8 M788.5,661.1 L788.9,662.7 M786.5,661.6 L786.8,663.1 M784.6,661.7 L784.6,663.3 M782.6,661.4 L782.4,663.0 M780.6,660.8 L780.2,662.4 " stroke="#1c1c1c" stroke-width="1.1"/>
<ellipse cx="784" cy="637" rx="5" ry="6.5" stroke-width="1.4"/>
<path d="M781,632 C783,630 786,631 787,634 L786,642" stroke="#111" stroke-width="2"/>
<path d="M760,637 L778,633 L779,648 L761,651 Z" fill="#fff" stroke-width="1.5"/>
<ellipse cx="761" cy="644" rx="3.5" ry="7" fill="#111"/>
<ellipse cx="772" cy="641" rx="5" ry="7" stroke-width="1.3"/>
<path d="M774.5,648.7 L778.6,692" stroke-width="1.3"/>
</g>
<g id="p40b">
<ellipse cx="791" cy="670" rx="10" ry="8.5" fill="#222"/>
<ellipse cx="785.5" cy="669.5" rx="5" ry="6" fill="#fff" stroke-width="1.3"/>
<path d="M794,678 L794,706" stroke-width="1.3"/>
</g>
<g id="p38">
<ellipse cx="768" cy="675.3" rx="6" ry="7.8" fill="#111"/>
<ellipse cx="768.5" cy="676" rx="2.5" ry="3.5" fill="#fff" stroke="none"/>
<path d="M765,683 L759,707" stroke-width="1.3"/>
</g>
<g id="p41">
<ellipse cx="808.5" cy="664" rx="5.5" ry="7" fill="#fff" stroke-width="1.5"/>
<ellipse cx="808.5" cy="664" rx="2.5" ry="3.5" stroke-width="1.1"/>
<path d="M809.4,671 L811.7,692" stroke-width="1.3"/>
</g>
<g id="p42">
<path d="M818,655 L826,653.4 L831,658 L830,665 L822,666.4 L817,662 Z" fill="#fff" stroke-width="1.5"/>
<ellipse cx="821" cy="660.5" rx="3.5" ry="4.5" fill="#222" stroke="none"/>
<path d="M825.5,667 L833.9,704.8" stroke-width="1.3"/>
</g>
<g id="p48">
<path d="M832.4,563.5 L832.4,580.7" stroke-width="1.3"/>
<ellipse cx="832" cy="590.5" rx="6" ry="8.5" fill="#fff" stroke-width="1.6"/>
<ellipse cx="832" cy="590.5" rx="3" ry="4.5" stroke-width="1.1"/>
</g>
<g id="p47">
<path d="M853,543 L848.4,579" stroke-width="1.3"/>
<path d="M839,582 L848,579 L854,583 L854.3,592 L846,595.5 L840,593 Z" fill="#fff" stroke-width="1.5"/>
<ellipse cx="843" cy="588" rx="4" ry="5.5" fill="#222" stroke="none"/>
<ellipse cx="844" cy="588" rx="2" ry="3" fill="#fff" stroke="none"/>
</g>
<g id="p44">
<path d="M921,533.5 C940,522 960,515 970.5,514.5 L985,521.8 C1000,532 1012,545 1017,571 L1017,622 C1012,632 1005,637 998,639.6 L977.7,648.4 C960,647 945,640 937,628 C928,612 924,590 921,533.5 Z" fill="#fff" stroke-width="1.6"/>
<path d="M925,537 C940,528 955,525 963,529 C975,538 988,556 992.3,574 L990.8,622 C985,634 978,640 973.4,642.5 C955,642 942,633 935,620 C929,605 927,580 925,537 Z" stroke-width="1.3"/>
<path d="M948.6,521.8 L963,529 L985,521.8 M992.3,574 L1015.5,571 M977.7,648.4 L973.4,642.5" stroke-width="1.3"/>
<path d="M993.7,625.8 L1015.5,622 L1009.7,631 L998,639.6 L982,643.3 Z" fill="#111" stroke="none"/>
<path d="M941.5,530 L942,600" stroke-width="1.1"/><path d="M926,537 C934,531 944,528 952,527 L950,530 C942,531 934,534 927,540 Z" fill="#222" stroke="none"/>
<path d="M927,554 L945,552 C948,555 948,563 945,566 L927,568" fill="#fff" stroke-width="1.3"/>
<ellipse cx="970.5" cy="586.5" rx="5.8" ry="6.5" fill="#fff" stroke-width="1.4"/>
<ellipse cx="972" cy="586.5" rx="3" ry="4.5" stroke-width="1.1"/>
<path d="M905,604.7 L960.3,590" stroke-width="1"/>
<circle cx="938" cy="531" r="1.2" stroke-width="1"/><circle cx="974" cy="547" r="1.2" stroke-width="1"/>
<circle cx="989" cy="598" r="1.2" stroke-width="1"/><circle cx="937" cy="628" r="1.2" stroke-width="1"/><circle cx="976" cy="647" r="1.2" stroke-width="1"/>
<path d="M992,639.6 L988.6,685" stroke-width="1.3"/>
</g>
<g id="p46">
<path d="M1020,526.2 L1033,559.6" stroke-width="1.3"/>
<path d="M1027,561 L1039,559 L1045.4,565 L1044,575 L1032,577 L1024,574" fill="#fff" stroke-width="1.5"/>
<ellipse cx="1027" cy="570.5" rx="5" ry="6.5" fill="#fff" stroke-width="1.5"/>
<ellipse cx="1027" cy="570.5" rx="2.5" ry="3.5" fill="#333" stroke="none"/>
<path d="M1035,560 L1037,576" stroke-width="1"/>
</g>
<g id="p45s">
<path d="M1002.5,639.6 L1020,635.3" stroke-width="0.9"/>
<path d="M1020,633.5 L1046,626.5 M1020,637 L1046,630" stroke-width="1.4"/>
<path d="M1020,633 L1035,629 L1036,633 L1021,637 Z" fill="#222" stroke="none"/>
<ellipse cx="1050" cy="626.5" rx="5" ry="6" fill="#fff" stroke-width="1.6"/>
<path d="M1037.4,633.8 L1031.5,685" stroke-width="1.3"/>
</g>
<g id="p34">
<path d="M508.7,822 L658,781 L737.5,824 L737.5,837 L609,876.5 L586,883 L576.4,873 L519.6,843.7 L504.4,834 Z" fill="#fff" stroke-width="1.5"/>
<path d="M508.7,822 L516,831.7 L588,865 L737.5,824 M516,831.7 L519.6,843.7 M588,865 L588,878 M576.4,861 L576.4,873 M609,858 L609,876.5 M725,828 L725,840" stroke-width="1.3"/>
<path d="M521.8,829.5 L657,792 L722,826 L589.5,864.5 Z" stroke-width="1.2"/>
<path d="M532.7,823 L532.7,832 M520,818 L534,814 L534,822 M575,854 L575,861 M641,784 L641,793 M657,781 L657,792 M714,812 L714,821 M725,818 L725,827" stroke-width="1.1"/>
<g stroke="#333" stroke-width="4.6" stroke-linecap="round">
<path d="M571,824.5 L640,808.4"/><path d="M580,831.4 L650,815.5"/><path d="M589,838 L660,821.5"/><path d="M598,845 L670.6,828"/><path d="M608,850.7 L681,833"/>
</g>
<g stroke="#fff" stroke-width="1.6" stroke-linecap="round">
<path d="M574,824 L638,809"/><path d="M583,831 L648,816"/><path d="M592,837.5 L658,822"/><path d="M601,844.5 L668.6,828.5"/><path d="M611,850.2 L679,834"/>
</g>
<path d="M655,797 L714,828" stroke-width="4" stroke="#444" stroke-linecap="round"/>
<path d="M656,797 L713,827" stroke-width="1.6" stroke="#fff" stroke-linecap="round"/>
<path d="M531,830 L548,838" stroke-width="3" stroke="#444" stroke-linecap="round"/>
<path d="M532,830 L547,837.5" stroke-width="1.2" stroke="#fff" stroke-linecap="round"/>
<ellipse cx="555" cy="825.7" rx="4" ry="2.8" stroke-width="1.4"/>
<path d="M646.6,860 L646.6,892.7" stroke-width="1.3"/>
</g>
<g id="p36">
<path d="M711,847 L711,860" stroke-width="1" stroke-dasharray="2 2"/>
<path d="M707.5,861 L713.5,861 L713.5,874 L707.5,874 Z" fill="#fff" stroke-width="1.3"/>
<path d="M708,864 L713,864 M708,867 L713,867 M708,870 L713,870" stroke-width="0.8"/>
<path d="M701,878 L701,889 C705,894 717,894 721.6,889 L721.6,878" fill="#fff" stroke-width="1.6"/>
<ellipse cx="711.3" cy="878" rx="10.3" ry="4.5" fill="#fff" stroke-width="1.6"/>
<path d="M703,882 L703,889" stroke="#222" stroke-width="2.5"/>
<path d="M721.6,881 L736.4,881" stroke-width="1.4"/>
</g>


</g>
<g class="lb">
<path d="M445.65,269.00 L448.15,269.00 L448.15,253.10 L446.35,253.10 L445.55,254.70 L444.35,255.80 L442.15,256.80 L442.15,258.90 L445.65,257.30 Z"/>
<text x="435.00" y="331">2</text>
<text x="434.50" y="376">3</text>
<text x="491.00" y="430">4</text>
<text x="469.50" y="431">5</text>
<text x="450.50" y="404">6</text>
<text x="414.00" y="404.5">7</text>
<text x="351.50" y="406">8</text>
<text x="266.00" y="436">9</text>
<path d="M206.05,439.00 L208.55,439.00 L208.55,423.10 L206.75,423.10 L205.95,424.70 L204.75,425.80 L202.55,426.80 L202.55,428.90 L206.05,427.30 Z"/>
<text x="211.65" y="439">0</text>
<path d="M127.50,437.50 L130.00,437.50 L130.00,421.60 L128.20,421.60 L127.40,423.20 L126.20,424.30 L124.00,425.30 L124.00,427.40 L127.50,425.80 Z"/>
<path d="M136.80,437.50 L139.30,437.50 L139.30,421.60 L137.50,421.60 L136.70,423.20 L135.50,424.30 L133.30,425.30 L133.30,427.40 L136.80,425.80 Z"/>
<path d="M693.55,328.30 L696.05,328.30 L696.05,312.40 L694.25,312.40 L693.45,314.00 L692.25,315.10 L690.05,316.10 L690.05,318.20 L693.55,316.60 Z"/>
<text x="698.15" y="328.3">2</text>
<path d="M745.05,336.00 L747.55,336.00 L747.55,320.10 L745.75,320.10 L744.95,321.70 L743.75,322.80 L741.55,323.80 L741.55,325.90 L745.05,324.30 Z"/>
<text x="749.65" y="336">3</text>
<path d="M360.05,597.50 L362.55,597.50 L362.55,581.60 L360.75,581.60 L359.95,583.20 L358.75,584.30 L356.55,585.30 L356.55,587.40 L360.05,585.80 Z"/>
<text x="365.65" y="597.5">4</text>
<path d="M774.55,473.00 L777.05,473.00 L777.05,457.10 L775.25,457.10 L774.45,458.70 L773.25,459.80 L771.05,460.80 L771.05,462.90 L774.55,461.30 Z"/>
<text x="779.15" y="473">5</text>
<path d="M815.55,470.00 L818.05,470.00 L818.05,454.10 L816.25,454.10 L815.45,455.70 L814.25,456.80 L812.05,457.80 L812.05,459.90 L815.55,458.30 Z"/>
<text x="820.15" y="470">6</text>
<path d="M552.05,616.70 L554.55,616.70 L554.55,600.80 L552.75,600.80 L551.95,602.40 L550.75,603.50 L548.55,604.50 L548.55,606.60 L552.05,605.00 Z"/>
<text x="556.65" y="616.7">7</text>
<path d="M528.55,619.50 L531.05,619.50 L531.05,603.60 L529.25,603.60 L528.45,605.20 L527.25,606.30 L525.05,607.30 L525.05,609.40 L528.55,607.80 Z"/>
<text x="533.15" y="619.5">8</text>
<path d="M505.05,621.00 L507.55,621.00 L507.55,605.10 L505.75,605.10 L504.95,606.70 L503.75,607.80 L501.55,608.80 L501.55,610.90 L505.05,609.30 Z"/>
<text x="509.65" y="621">9</text>
<text x="473.50" y="628.8">2</text>
<text x="487.50" y="628.8">0</text>
<text x="458.85" y="657.5">2</text>
<path d="M477.75,657.50 L480.25,657.50 L480.25,641.60 L478.45,641.60 L477.65,643.20 L476.45,644.30 L474.25,645.30 L474.25,647.40 L477.75,645.80 Z"/>
<text x="422.00" y="637">2</text>
<text x="435.00" y="637">2</text>
<text x="386.00" y="646">2</text>
<text x="399.00" y="646">3</text>
<text x="264.50" y="677.5">2</text>
<text x="278.50" y="677.5">4</text>
<text x="210.00" y="678.6">2</text>
<text x="223.00" y="678.6">5</text>
<text x="120.00" y="744.8">2</text>
<text x="133.00" y="744.8">6</text>
<text x="73.00" y="750.5">2</text>
<text x="86.00" y="750.5">7</text>
<text x="203.50" y="895">2</text>
<text x="216.50" y="895">8</text>
<text x="328.00" y="772.7">2</text>
<text x="341.00" y="772.7">9</text>
<text x="281.50" y="889.3">3</text>
<text x="295.50" y="889.3">0</text>
<text x="409.35" y="872">3</text>
<path d="M428.25,872.00 L430.75,872.00 L430.75,856.10 L428.95,856.10 L428.15,857.70 L426.95,858.80 L424.75,859.80 L424.75,861.90 L428.25,860.30 Z"/>
<text x="465.00" y="862.8">3</text>
<text x="478.00" y="862.8">2</text>
<text x="899.00" y="442">3</text>
<text x="912.00" y="442">3</text>
<text x="632.50" y="914">3</text>
<text x="646.50" y="914">4</text>
<text x="769.50" y="384">3</text>
<text x="782.50" y="384">5</text>
<text x="740.00" y="889.5">3</text>
<text x="753.00" y="889.5">6</text>
<text x="725.50" y="782.5">3</text>
<text x="738.50" y="782.5">7</text>
<text x="742.30" y="725.3">3</text>
<text x="755.30" y="725.3">8</text>
<text x="765.50" y="708.5">3</text>
<text x="778.50" y="708.5">9</text>
<text x="780.00" y="727">4</text>
<text x="794.00" y="727">0</text>
<text x="800.35" y="707.5">4</text>
<path d="M819.25,707.50 L821.75,707.50 L821.75,691.60 L819.95,691.60 L819.15,693.20 L817.95,694.30 L815.75,695.30 L815.75,697.40 L819.25,695.80 Z"/>
<text x="821.50" y="726.6">4</text>
<text x="834.50" y="726.6">2</text>
<text x="853.80" y="726.2">4</text>
<text x="866.80" y="726.2">3</text>
<text x="972.00" y="702.5">4</text>
<text x="986.00" y="702.5">4</text>
<text x="1015.50" y="704">4</text>
<text x="1028.50" y="704">5</text>
<text x="1002.50" y="523">4</text>
<text x="1015.50" y="523">6</text>
<text x="843.30" y="537.5">4</text>
<text x="856.30" y="537.5">7</text>
<text x="819.50" y="560.5">4</text>
<text x="832.50" y="560.5">8</text>
<text x="797.00" y="541">4</text>
<text x="810.00" y="541">9</text>
<text x="740.00" y="572.5">5</text>
<text x="754.00" y="572.5">0</text>
<text x="888.85" y="505">5</text>
<path d="M907.75,505.00 L910.25,505.00 L910.25,489.10 L908.45,489.10 L907.65,490.70 L906.45,491.80 L904.25,492.80 L904.25,494.90 L907.75,493.30 Z"/>
<text x="1023.50" y="311">5</text>
<text x="1036.50" y="311">2</text>
</g>
</svg>
</body></html>
